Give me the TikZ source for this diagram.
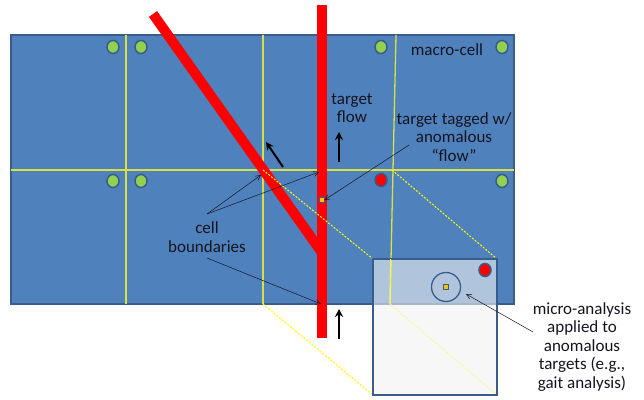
\documentclass[tikz,border=0pt]{standalone}
\usepackage{fontspec}
\setmainfont{Carlito}
\usetikzlibrary{arrows.meta,shapes.geometric}
\definecolor{bluefill}{RGB}{79,129,189}
\definecolor{blueline}{RGB}{56,93,138}
\definecolor{greendot}{RGB}{146,208,80}
\definecolor{cellyellow}{RGB}{215,225,70}
\definecolor{dashyellow}{RGB}{255,255,0}
\definecolor{redbar}{RGB}{255,0,0}
\definecolor{tagfill}{RGB}{255,192,0}
\definecolor{insetfill}{RGB}{242,242,242}
\definecolor{txt}{RGB}{20,20,30}
\tikzset{
  dotg/.style={ellipse, draw=blueline, line width=1.5pt, fill=greendot, minimum width=12pt, minimum height=13pt, inner sep=0pt},
  dotr/.style={dotg, fill=redbar},
  cellline/.style={draw=cellyellow, line width=1.3pt},
  projline/.style={draw=dashyellow, line width=1pt, dash pattern=on 2pt off 1.5pt},
  redpath/.style={draw=redbar, line width=10pt},
  flowarrow/.style={draw=black, line width=2pt, -{Stealth[length=8pt,width=8pt]}},
  callout/.style={draw=txt, line width=0.5pt, -{Straight Barb[length=5pt,width=5pt]}},
  label/.style={text=txt, font=\fontsize{17}{18.5}\selectfont, align=center, inner sep=0pt},
  tagsq/.style={draw=blueline, fill=tagfill, line width=0.8pt, minimum size=5pt, inner sep=0pt},
}
\begin{document}
\begin{tikzpicture}[x=1pt,y=-1pt]
\useasboundingbox (0,0) rectangle (644,399);
% macro-cell
\draw[draw=blueline, fill=bluefill, line width=1.5pt] (11,35) rectangle (514,304);
% cell boundaries
\coordinate (hL) at (11,170);
\coordinate (hR) at (514,170);
\coordinate (v1t) at (126,35);
\coordinate (v1b) at (126,304);
\coordinate (v2t) at (263,35);
\coordinate (v2m) at (263,170);
\coordinate (v2b) at (263,304);
\coordinate (v3t) at (396,35);
\coordinate (v3m) at (392,170);
\coordinate (v3b) at (390,304);
\path[cellline] (hL) -- (hR);
\path[cellline] (v1t) -- (v1b);
\path[cellline] (v2t) -- (v2b);
\path[cellline] (v3t) -- (v3b);
% red target flows
\coordinate (rt) at (321.5,5);
\coordinate (rb) at (321.5,338);
\coordinate (dt) at (153,14);
\coordinate (dj) at (321.5,252);
\path[redpath] (dt) -- (dj);
\path[redpath] (rt) -- (rb);
% green / red dots
\node[dotg] (g1) at (113,47) {};
\node[dotg] (g2) at (141,47) {};
\node[dotg] (g3) at (381,47) {};
\node[dotg] (g4) at (502,47) {};
\node[dotg] (g5) at (113,181) {};
\node[dotg] (g6) at (141,181) {};
\node[dotr] (r1) at (381,180) {};
\node[dotg] (g7) at (502,181) {};
% tagged target
\node[tagsq] (tag) at (321.5,200) {};
% inset
\coordinate (iTL) at (373,259);
\coordinate (iTR) at (497,259);
\coordinate (iBL) at (373,395);
\coordinate (iBR) at (497,395);
\path[projline] (v2m) -- (iTL);
\path[projline] (v3m) -- (iTR);
\path[projline] (v2b) -- (iBL);
\path[projline] (v3b) -- (iBR);
\draw[draw=blueline, fill=insetfill, fill opacity=0.6, line width=1.3pt] (iTL) rectangle (iBR);
\coordinate (ivt) at (390.6,259);
\path[cellline, draw=dashyellow!85!white, line width=1pt] (ivt) -- (v3b);
\node[dotr] (r2) at (485,270) {};
\node[circle, draw=blueline, line width=1.3pt, minimum size=29pt, inner sep=0pt] (ring) at (446,287) {};
\node[tagsq] (tag2) at (446,287) {};
% flow arrows
\coordinate (a1s) at (283,167);
\coordinate (a1e) at (266,142);
\coordinate (a2s) at (339,162);
\coordinate (a2e) at (339,132);
\coordinate (a3s) at (339,339);
\coordinate (a3e) at (339,309);
\path[flowarrow] (a1s) -- (a1e);
\path[flowarrow] (a2s) -- (a2e);
\path[flowarrow] (a3s) -- (a3e);
% labels
\node[label] (macro) at (447,50) {macro-cell};
\node[label] (flow) at (352,108) {target\\flow};
\node[label] (tagged) at (454,137) {target tagged w/\\anomalous\\“flow”};
\node[label] (cells) at (207,237) {cell\\boundaries};
\node[label] (micro) at (582,347) {micro-analysis\\applied to\\anomalous\\targets (e.g.,\\gait analysis)};
% callouts
\coordinate (cb1) at (207,214);
\coordinate (cb2) at (207,258);
\coordinate (ce1) at (261,175);
\coordinate (ce2) at (319,172);
\coordinate (ce3) at (321,304);
\path[callout] (cb1) -- (ce1);
\path[callout] (cb1) -- (ce2);
\path[callout] (cb2) -- (ce3);
\coordinate (tg1) at (409,145);
\path[callout] (tg1) -- (tag.east);
\coordinate (mc1) at (533,332);
\coordinate (mc2) at (466,294);
\path[callout] (mc1) -- (mc2);
\end{tikzpicture}
\end{document}
